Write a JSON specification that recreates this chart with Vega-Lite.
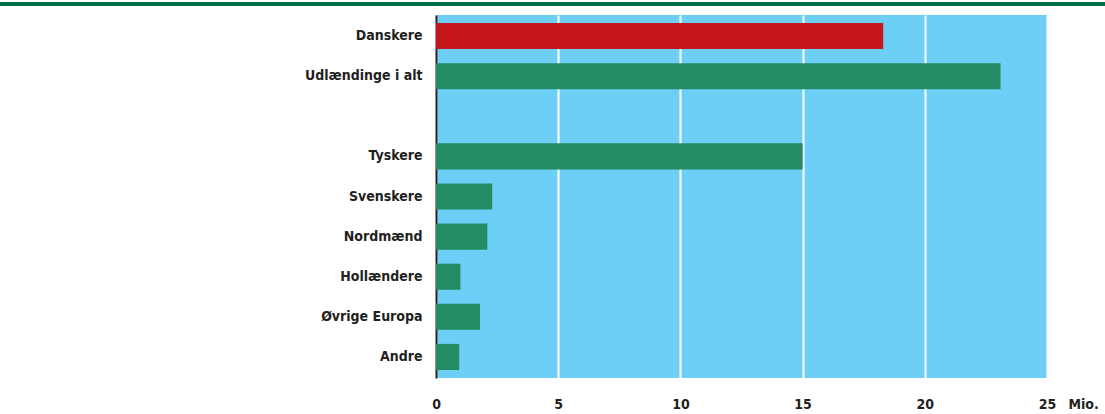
{
  "$schema": "https://vega.github.io/schema/vega-lite/v6.json",
  "width": 611,
  "height": 363,
  "autosize": {"type": "none"},
  "padding": {"left": 436, "top": 15, "right": 58, "bottom": 36},
  "background": "white",
  "config": {
    "view": {"fill": "#6dcff6", "stroke": null},
    "font": "DejaVu Sans Condensed"
  },
  "data": {
    "values": [
      {"gruppe": "Danskere", "mio": 18.3, "type": "dansk"},
      {"gruppe": "Udlændinge i alt", "mio": 23.1, "type": "udl"},
      {"gruppe": "Tyskere", "mio": 15.0, "type": "udl"},
      {"gruppe": "Svenskere", "mio": 2.3, "type": "udl"},
      {"gruppe": "Nordmænd", "mio": 2.1, "type": "udl"},
      {"gruppe": "Hollændere", "mio": 1.0, "type": "udl"},
      {"gruppe": "Øvrige Europa", "mio": 1.8, "type": "udl"},
      {"gruppe": "Andre", "mio": 0.95, "type": "udl"}
    ]
  },
  "layer": [
    {
      "mark": {"type": "bar"},
      "encoding": {
        "y": {
          "field": "gruppe",
          "type": "nominal",
          "sort": null,
          "scale": {
            "domain": ["Danskere", "Udlændinge i alt", " ", "Tyskere", "Svenskere", "Nordmænd", "Hollændere", "Øvrige Europa", "Andre"],
            "paddingInner": 0.35,
            "paddingOuter": 0.2
          },
          "axis": {
            "title": null,
            "ticks": false,
            "domain": true,
            "domainColor": "#231f20",
            "domainWidth": 2,
            "labelFontSize": 14,
            "labelFontWeight": "bold",
            "labelColor": "#231f20",
            "labelPadding": 14,
            "grid": false
          }
        },
        "x": {
          "field": "mio",
          "type": "quantitative",
          "scale": {"domain": [0, 25], "nice": false},
          "axis": {
            "values": [0, 5, 10, 15, 20, 25],
            "title": "Mio.",
            "titleAngle": 0,
            "titleAnchor": "start",
            "titleAlign": "left",
            "titleX": 632,
            "titleY": 26,
            "titleBaseline": "middle",
            "titleFontSize": 14,
            "titleFontWeight": "bold",
            "titleColor": "#231f20",
            "domain": false,
            "ticks": false,
            "grid": true,
            "gridColor": "white",
            "gridWidth": 2,
            "gridOpacity": 1,
            "labelFontSize": 14,
            "labelFontWeight": "bold",
            "labelColor": "#231f20",
            "labelPadding": 26,
            "labelBaseline": "middle",
            "labelFlush": false
          }
        },
        "color": {
          "field": "type",
          "type": "nominal",
          "scale": {"domain": ["dansk", "udl"], "range": ["#c4161c", "#238c63"]},
          "legend": null
        }
      }
    },
    {
      "mark": {"type": "rule", "color": "#006e46", "strokeWidth": 3, "clip": false},
      "encoding": {
        "x": {"datum": -17.84, "type": "quantitative"},
        "x2": {"datum": 27.37},
        "y": {"value": -11}
      }
    }
  ]
}
